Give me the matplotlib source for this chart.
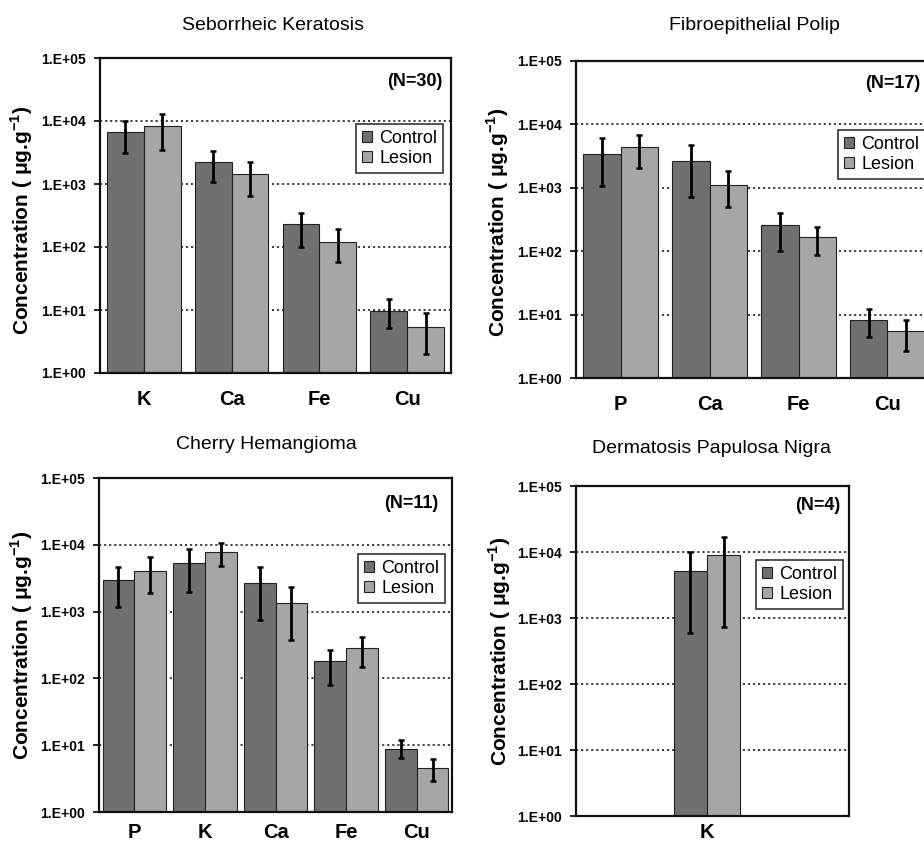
import matplotlib
matplotlib.use("Agg")
import matplotlib.pyplot as plt
import numpy as np

# ---------------- data ----------------
sk_elements = ["K", "Ca", "Fe", "Cu"]
sk_control = [6700, 2200, 230, 9.7]
sk_control_hi = [10000, 3400, 345, 14.9]
sk_control_lo = [3100, 1070, 100, 5.2]
sk_lesion = [8300, 1430, 121, 5.4]
sk_lesion_hi = [13000, 2250, 190, 9.1]
sk_lesion_lo = [3500, 650, 57, 2.0]

fp_elements = ["P", "Ca", "Fe", "Cu"]
fp_control = [3470, 2630, 260, 8.2]
fp_control_hi = [6000, 4680, 400, 12.3]
fp_control_lo = [1080, 720, 102, 4.4]
fp_lesion = [4360, 1110, 166, 5.6]
fp_lesion_hi = [6900, 1850, 240, 8.3]
fp_lesion_lo = [2040, 495, 88, 2.7]

ch_elements = ["P", "K", "Ca", "Fe", "Cu"]
ch_control = [2990, 5250, 2660, 180, 8.9]
ch_control_hi = [4730, 8710, 4730, 266, 11.9]
ch_control_lo = [1190, 1970, 750, 79, 6.5]
ch_lesion = [4070, 7760, 1360, 288, 4.6]
ch_lesion_hi = [6530, 10800, 2370, 417, 6.3]
ch_lesion_lo = [1930, 4840, 376, 150, 2.9]

dp_elements = ["K"]
dp_control = [5150]
dp_control_hi = [10100]
dp_control_lo = [590]
dp_lesion = [8900]
dp_lesion_hi = [16700]
dp_lesion_lo = [720]

titles = ["Seborrheic Keratosis", "Fibroepithelial Polip",
          "Cherry Hemangioma", "Dermatosis Papulosa Nigra"]
n_labels = ["(N=30)", "(N=17)", "(N=11)", "(N=4)"]
series_names = ["Control", "Lesion"]
ytick_vals = [1, 10, 100, 1000, 10000, 100000]
ytick_labels = ["1.E+00", "1.E+01", "1.E+02", "1.E+03", "1.E+04", "1.E+05"]
ylabel = "Concentration ( \u03bcg.g$^{\\mathbf{-1}}$)"

# ---------------- fonts ----------------
plt.rcParams["font.family"] = ["Liberation Sans", "DejaVu Sans"]
plt.rcParams["mathtext.fontset"] = "custom"
plt.rcParams["mathtext.bf"] = "Liberation Sans:bold"
plt.rcParams["mathtext.rm"] = "Liberation Sans"

C_CTRL = "#707070"
C_LES = "#a6a6a6"

W, H = 924, 843
fig = plt.figure(figsize=(W / 100, H / 100), dpi=100)
fig.patch.set_facecolor("white")


def px_axes(left, right, top, bottom):
    return fig.add_axes([left / W, 1 - bottom / H, (right - left) / W, (bottom - top) / H])


def draw(ax, elements, ctrl, ctrl_hi, ctrl_lo, les, les_hi, les_lo, width, xlim, xoff=0.0, xpad=12):
    x = np.arange(len(elements)) + xoff
    ax.set_yscale("log")
    ax.set_ylim(1, 1e5)
    ax.set_xlim(*xlim)
    for yv in ytick_vals[1:-1]:
        ax.axhline(yv, color="#333333", lw=1.3, ls=(0, (1.2, 1.6)), zorder=0)
    ctrl = np.array(ctrl); les = np.array(les)
    ce = [ctrl - np.array(ctrl_lo), np.array(ctrl_hi) - ctrl]
    le = [les - np.array(les_lo), np.array(les_hi) - les]
    ax.bar(x - width / 2, ctrl, width, color=C_CTRL, edgecolor="#222222", lw=0.8, zorder=2,
           label=series_names[0])
    ax.bar(x + width / 2, les, width, color=C_LES, edgecolor="#222222", lw=0.8, zorder=2,
           label=series_names[1])
    ax.errorbar(x - width / 2, ctrl, yerr=ce, fmt="none", ecolor="black", elinewidth=2,
                capsize=2.5, capthick=1.8, zorder=3)
    ax.errorbar(x + width / 2, les, yerr=le, fmt="none", ecolor="black", elinewidth=2,
                capsize=2.5, capthick=1.8, zorder=3)
    ax.set_yticks(ytick_vals)
    ax.set_yticklabels(ytick_labels, fontsize=10, fontweight="bold")
    ax.yaxis.set_minor_locator(matplotlib.ticker.NullLocator())
    ax.set_xticks(np.arange(len(elements)) + xoff)
    ax.set_xticklabels(elements, fontsize=14.5, fontweight="bold")
    ax.tick_params(axis="x", length=0, pad=xpad)
    ax.tick_params(axis="y", length=4, width=1.2, direction="out", pad=6)
    for s in ax.spines.values():
        s.set_color("#111111")
        s.set_linewidth(1.6)


def add_legend(ax, loc_xy):
    leg = ax.legend(loc="upper right", bbox_to_anchor=loc_xy, fontsize=13, frameon=True,
                    fancybox=False, edgecolor="black", handlelength=0.55, handleheight=0.55,
                    handletextpad=0.4, borderpad=0.32, labelspacing=0.18, borderaxespad=0)
    leg.get_frame().set_linewidth(1.2)
    return leg


# Panel 1
ax1 = px_axes(100, 451, 58, 373)
draw(ax1, sk_elements, sk_control, sk_control_hi, sk_control_lo,
     sk_lesion, sk_lesion_hi, sk_lesion_lo, 0.42, (-0.5, 3.5))
add_legend(ax1, (0.977, 0.79))
ax1.text(0.977, 0.924, n_labels[0], transform=ax1.transAxes, ha="right", va="center",
         fontsize=13, fontweight="bold")

# Panel 2
ax2 = px_axes(576, 932, 61, 378)
draw(ax2, fp_elements, fp_control, fp_control_hi, fp_control_lo,
     fp_lesion, fp_lesion_hi, fp_lesion_lo, 0.42, (-0.5, 3.5))
add_legend(ax2, (0.98, 0.782))
ax2.text(0.966, 0.93, n_labels[1], transform=ax2.transAxes, ha="right", va="center",
         fontsize=13, fontweight="bold")

# Panel 3
ax3 = px_axes(99, 452, 478, 812)
draw(ax3, ch_elements, ch_control, ch_control_hi, ch_control_lo,
     ch_lesion, ch_lesion_hi, ch_lesion_lo, 0.45, (-0.5, 4.5), xpad=8)
add_legend(ax3, (0.98, 0.772))
ax3.text(0.96, 0.925, n_labels[2], transform=ax3.transAxes, ha="right", va="center",
         fontsize=13, fontweight="bold")

# Panel 4
ax4 = px_axes(576, 849, 486, 816)
draw(ax4, dp_elements, dp_control, dp_control_hi, dp_control_lo,
     dp_lesion, dp_lesion_hi, dp_lesion_lo, 0.122, (-0.48, 0.52), xpad=5)
add_legend(ax4, (0.978, 0.776))
ax4.text(0.967, 0.94, n_labels[3], transform=ax4.transAxes, ha="right", va="center",
         fontsize=13, fontweight="bold")

# titles
for (cx, cy), t in zip([(273, 25), (754, 25), (266, 445), (711, 449)], titles):
    fig.text(cx / W, 1 - cy / H, t, ha="center", va="center", fontsize=14)

# y labels
for (lx, ly) in [(22, 220), (498, 222), (22, 645), (500, 651)]:
    fig.text(lx / W, 1 - ly / H, ylabel, ha="center", va="center", rotation=90,
             fontsize=15, fontweight="bold")

fig.savefig("out.png", dpi=100, facecolor="white")
